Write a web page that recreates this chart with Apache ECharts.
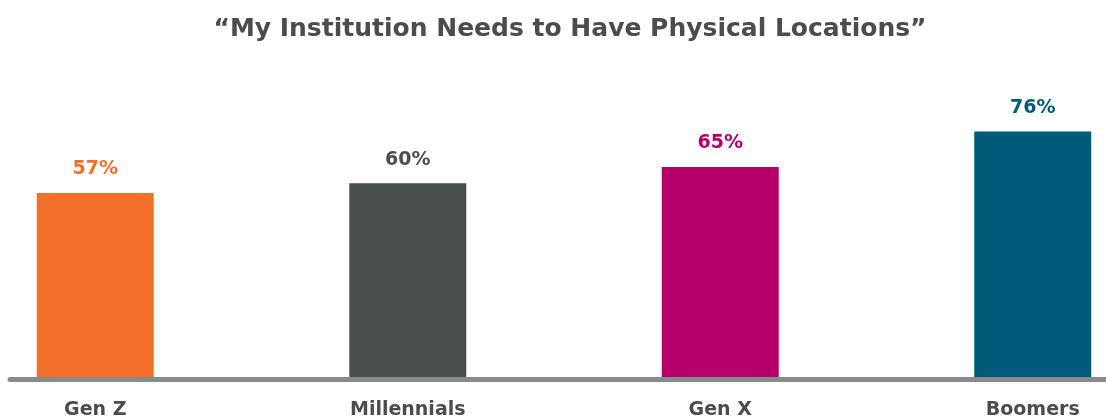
<!DOCTYPE html>
<html>
<head>
<meta charset="utf-8">
<script src="https://cdn.jsdelivr.net/npm/echarts@6/dist/echarts.min.js"></script>
<style>
  html, body { margin: 0; padding: 0; background: #fff; }
  #chart { width: 1106px; height: 418px; }
</style>
</head>
<body>
<div id="chart"></div>
<script>
const titleText = '\u201CMy Institution Needs to Have Physical Locations\u201D';
const categories = ['Gen Z', 'Millennials', 'Gen X', 'Boomers'];
const values = [57, 60, 65, 76];
const barColors = ['#f3702b', '#4a4e4f', '#b5006b', '#005a7a'];

const FONT = '"DejaVu Sans", "Noto Sans", sans-serif';
const TEXT = '#4a4d4e';

const chart = echarts.init(document.getElementById('chart'), null, { renderer: 'canvas' });

chart.setOption({
  backgroundColor: '#ffffff',
  animation: false,
  title: {
    text: titleText,
    left: 565,
    textAlign: 'center',
    top: 12,
    textStyle: { fontFamily: FONT, fontWeight: 'bold', fontSize: 25, color: TEXT }
  },
  grid: [
    // plotting area for the bars (wider than the page so each band is 312.5px)
    { left: -61, width: 1250, top: 54, bottom: 41, outerBoundsMode: 'none', containLabel: false },
    // baseline rule across the page
    { left: 10, right: 0, top: 54, bottom: 38.5, outerBoundsMode: 'none', containLabel: false }
  ],
  xAxis: [
    {
      gridIndex: 0,
      type: 'category',
      data: categories,
      axisLine: { show: false },
      axisTick: { show: false },
      axisLabel: {
        margin: 24,
        fontFamily: FONT, fontWeight: 'bold', fontSize: 19, color: TEXT
      }
    },
    {
      gridIndex: 1,
      type: 'category',
      data: [],
      axisLine: { show: true, lineStyle: { color: '#888b8b', width: 5 } },
      axisTick: { show: false },
      axisLabel: { show: false }
    }
  ],
  yAxis: [
    { gridIndex: 0, type: 'value', min: 0, max: 100, show: false },
    { gridIndex: 1, type: 'value', min: 0, max: 100, show: false }
  ],
  series: [{
    type: 'bar',
    xAxisIndex: 0,
    yAxisIndex: 0,
    barWidth: 117,
    data: values.map((v, i) => ({
      value: v,
      itemStyle: { color: barColors[i] },
      label: { color: barColors[i] }
    })),
    label: {
      show: true,
      position: 'top',
      distance: 14,
      formatter: p => p.value + '%',
      fontFamily: FONT, fontWeight: 'bold', fontSize: 19
    }
  }]
});
</script>
</body>
</html>
